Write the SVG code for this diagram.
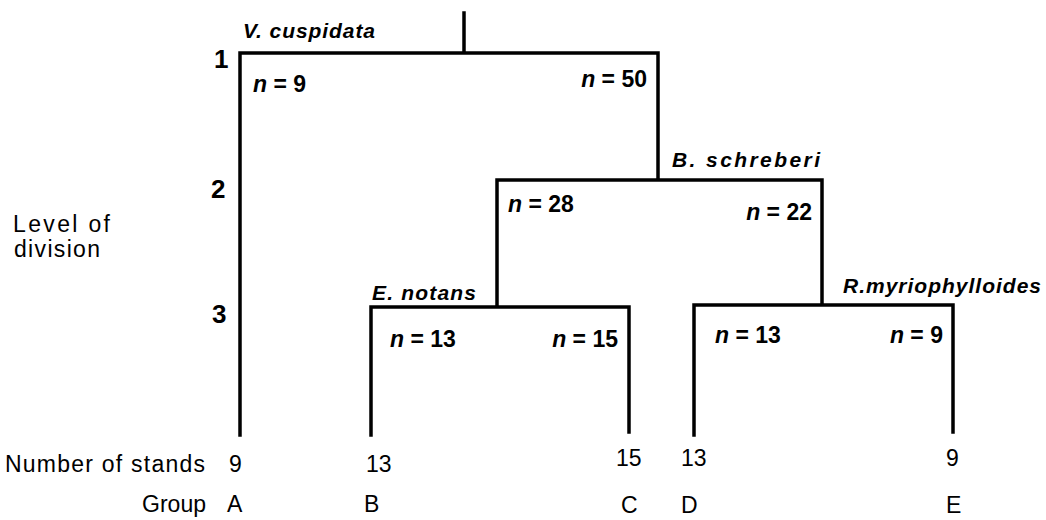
<svg xmlns="http://www.w3.org/2000/svg" width="1046" height="520" viewBox="0 0 1046 520">
<style>
.ln{stroke:#000;stroke-width:3.5;fill:none;stroke-linecap:square}
text{font-family:"Liberation Sans",Arial,sans-serif;fill:#000}
.lv{font-size:26px;font-weight:bold}
.lab{font-size:23px}
.sp{font-size:21px;font-style:italic;font-weight:bold}
.n{font-size:23px;font-weight:bold}
.n tspan.i{font-style:italic}
.bt{font-size:23px}
</style>
<rect width="1046" height="520" fill="#fff"/>
<g id="connectors">
<path class="ln" d="M464 13V53M240 53H658M240 53V435M658 53V180M497 180H822M497 180V307M822 180V305M371 307H629M371 307V435M629 307V432M694 305H953M694 305V435M953 305V432"/>
</g>
<g id="axis">
<text class="lv" x="214" y="68">1</text>
<text class="lv" x="211" y="198">2</text>
<text class="lv" x="212" y="323">3</text>
<text class="lab" x="13" y="232" textLength="97" lengthAdjust="spacing">Level of</text>
<text class="lab" x="14" y="257" textLength="86" lengthAdjust="spacing">division</text>
</g>
<g id="node-root">
<text class="sp" x="243" y="38" textLength="132" lengthAdjust="spacing">V. cuspidata</text>
<text class="n" x="253" y="92"><tspan class="i">n</tspan> = 9</text>
<text class="n" x="647" y="87" text-anchor="end"><tspan class="i">n</tspan> = 50</text>
</g>
<g id="node-2">
<text class="sp" x="672" y="167" textLength="148" lengthAdjust="spacing">B. schreberi</text>
<text class="n" x="508" y="212"><tspan class="i">n</tspan> = 28</text>
<text class="n" x="812" y="220" text-anchor="end"><tspan class="i">n</tspan> = 22</text>
</g>
<g id="node-3a">
<text class="sp" x="372" y="300" textLength="104" lengthAdjust="spacing">E. notans</text>
<text class="n" x="390" y="347"><tspan class="i">n</tspan> = 13</text>
<text class="n" x="618" y="347" text-anchor="end"><tspan class="i">n</tspan> = 15</text>
</g>
<g id="node-3b">
<text class="sp" x="843" y="293" textLength="198" lengthAdjust="spacing">R.myriophylloides</text>
<text class="n" x="715" y="343"><tspan class="i">n</tspan> = 13</text>
<text class="n" x="943" y="343" text-anchor="end"><tspan class="i">n</tspan> = 9</text>
</g>
<g id="groups">
<text class="bt" x="5" y="472" textLength="200" lengthAdjust="spacing">Number of stands</text>
<text class="bt" x="229" y="472">9</text>
<text class="bt" x="366" y="472">13</text>
<text class="bt" x="616" y="466">15</text>
<text class="bt" x="681" y="466">13</text>
<text class="bt" x="946" y="466">9</text>
<text class="bt" x="206" y="512" text-anchor="end">Group</text>
<text class="bt" x="227" y="512">A</text>
<text class="bt" x="364" y="512">B</text>
<text class="bt" x="621" y="513">C</text>
<text class="bt" x="681" y="513">D</text>
<text class="bt" x="946" y="513">E</text>
</g>
</svg>
